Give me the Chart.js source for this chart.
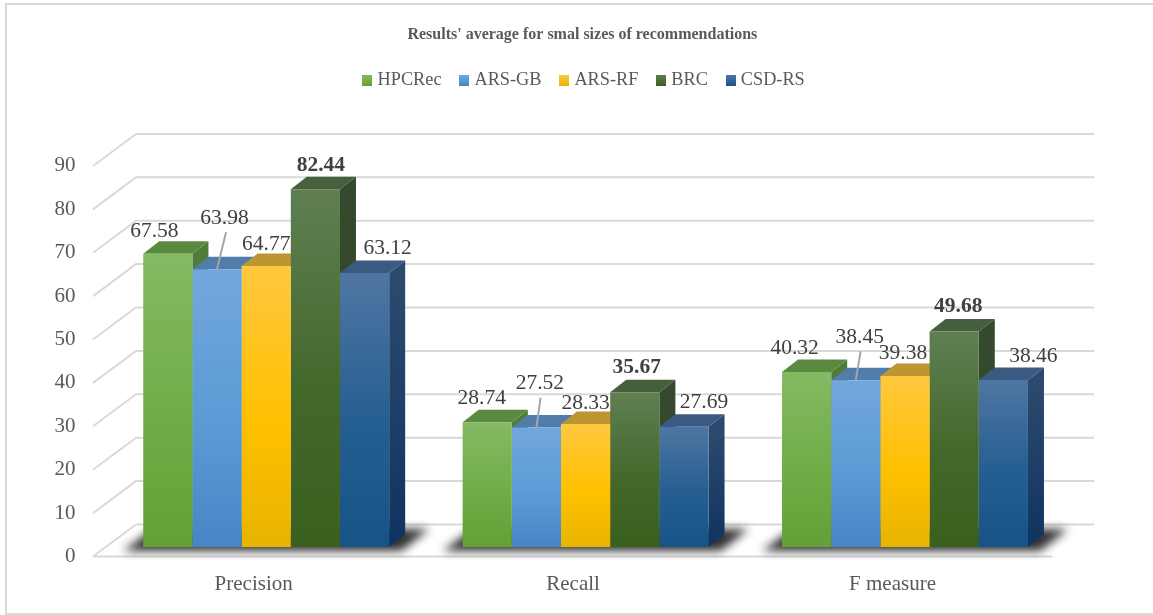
<!DOCTYPE html>
<html>
<head>
<meta charset="utf-8">
<title>Results' average</title>
<script src="https://cdn.jsdelivr.net/npm/chart.js@4/dist/chart.umd.min.js"></script>
<style>
    html, body { margin: 0; padding: 0; background: #fff; }
    #wrap { position: relative; width: 1153px; height: 615px; }
</style>
</head>
<body>
<div id="wrap"><canvas id="chart"></canvas></div>
<script>
const categories = ["Precision", "Recall", "F measure"];
const hpcrec = [67.58, 28.74, 40.32];
const arsGb = [63.98, 27.52, 38.45];
const arsRf = [64.77, 28.33, 39.38];
const brc = [82.44, 35.67, 49.68];
const csdRs = [63.12, 27.69, 38.46];
const yTicks = [0, 10, 20, 30, 40, 50, 60, 70, 80, 90];

// label nudges from the top centre of each bar, by series then category
const labelNudge = [
    [[-13.5, -22], [-5.5, -23.5], [-12, -23.5]],
    [[7.5, -51], [3.5, -44], [4, -43]],
    [[0, -21.5], [0, -21], [-2, -22.5]],
    [[5.5, -24], [2, -24.5], [4, -24.7]],
    [[23, -24.5], [20, -24], [30, -23.7]]
];

const SERIF = "'Liberation Serif', 'Times New Roman', serif";
const FLOOR_LIFT = 9.5;   // bars stand this far above the front edge of the floor
const DEPTH_X = 16, DEPTH_Y = 12.5;   // bar depth
const WALL_X = 43, WALL_Y = 32;       // wall depth

// colors: front top, front middle, front bottom, top face, side top, side bottom
const palette = [
    ["#84ba63", "#70ad47", "#63a036", "#5a8a3f", "#507c39", "#47722c"],
    ["#72a7dd", "#5b9bd5", "#4686c6", "#527dab", "#4a7199", "#3a6ea5"],
    ["#ffc83f", "#ffc000", "#e8b400", "#bd9632", "#a88428", "#a08000"],
    ["#5f7f53", "#43682b", "#3a601f", "#465f3c", "#37492f", "#2a4a18"],
    ["#4f76a3", "#255e91", "#175389", "#3a5a82", "#2d4a6e", "#0f3460"]
];

function makeSwatch(colors) {
    const c = document.createElement("canvas");
    c.width = 10;
    c.height = 11;
    const g = c.getContext("2d");
    const grad = g.createLinearGradient(0, 0, 0, 11);
    grad.addColorStop(0, colors[0]);
    grad.addColorStop(1, colors[1]);
    g.fillStyle = grad;
    g.fillRect(0, 0, 10, 11);
    return c;
}

function barFill(ctx) {
    const colors = palette[ctx.datasetIndex];
    const chart = ctx.chart;
    if (!chart.chartArea || ctx.raw === undefined) {
        return colors[1];
    }
    const y = chart.scales.y;
    const top = y.getPixelForValue(ctx.raw);
    const bottom = y.getPixelForValue(0);
    const grad = chart.ctx.createLinearGradient(0, top, 0, bottom);
    grad.addColorStop(0, colors[0]);
    grad.addColorStop(0.55, colors[1]);
    grad.addColorStop(1, colors[2]);
    return grad;
}

function poly(ctx, pts, fill) {
    ctx.beginPath();
    ctx.moveTo(pts[0][0], pts[0][1]);
    for (let i = 1; i < pts.length; i++) {
        ctx.lineTo(pts[i][0], pts[i][1]);
    }
    ctx.closePath();
    ctx.fillStyle = fill;
    ctx.fill();
}

const walls = {
    id: "walls",
    beforeDatasetsDraw(chart) {
        const ctx = chart.ctx;
        const area = chart.chartArea;
        const y = chart.scales.y;
        const x0 = area.left - 13.5;
        const x1 = x0 + WALL_X;
        const x2 = area.right + 29.5;
        ctx.save();
        ctx.strokeStyle = "#d9d9d9";
        ctx.lineWidth = 2;
        y.ticks.forEach(function (tick) {
            const py = y.getPixelForValue(tick.value);
            ctx.beginPath();
            ctx.moveTo(x0, py);
            ctx.lineTo(x1, py - WALL_Y);
            ctx.lineTo(x2, py - WALL_Y);
            ctx.stroke();
        });
        const py0 = y.getPixelForValue(0);
        ctx.beginPath();
        ctx.moveTo(x0, py0);
        ctx.lineTo(area.right - 12.5, py0);
        ctx.stroke();
        ctx.restore();

        // shadows on the floor
        const first = chart.getDatasetMeta(0);
        const last = chart.getDatasetMeta(chart.data.datasets.length - 1);
        ctx.save();
        ctx.filter = "blur(5px)";
        first.data.forEach(function (bar, i) {
            const left = bar.x - bar.width / 2;
            const right = last.data[i].x + last.data[i].width / 2;
            const base = bar.base - FLOOR_LIFT;
            poly(ctx, [[left - 20, base + 4], [right + 12, base + 4], [right + 40, base - 18], [left + 10, base - 18]], "#303030");
        });
        ctx.restore();

        // side and top faces, left to right, fronts come after
        ctx.save();
        ctx.translate(0, -FLOOR_LIFT);
        first.data.forEach(function (bar0, i) {
            chart.data.datasets.forEach(function (ds, d) {
                const bar = chart.getDatasetMeta(d).data[i];
                const l = bar.x - bar.width / 2;
                const r = bar.x + bar.width / 2;
                const side = ctx.createLinearGradient(0, bar.y, 0, bar.base);
                side.addColorStop(0, palette[d][4]);
                side.addColorStop(1, palette[d][5]);
                poly(ctx, [[r, bar.y], [r + DEPTH_X, bar.y - DEPTH_Y], [r + DEPTH_X, bar.base - DEPTH_Y], [r, bar.base]], side);
                poly(ctx, [[l, bar.y], [l + DEPTH_X, bar.y - DEPTH_Y], [r + DEPTH_X, bar.y - DEPTH_Y], [r, bar.y]], palette[d][3]);
            });
        });
    },
    afterDatasetsDraw(chart) {
        const ctx = chart.ctx;
        ctx.restore();

        // leader lines, then the value labels
        const gb = chart.getDatasetMeta(1);
        ctx.save();
        ctx.strokeStyle = "#a6a6a6";
        ctx.lineWidth = 2;
        gb.data.forEach(function (bar, i) {
            const nudge = labelNudge[1][i];
            ctx.beginPath();
            ctx.moveTo(bar.x, bar.y - FLOOR_LIFT);
            ctx.lineTo(bar.x + nudge[0] * 1.2, bar.y - FLOOR_LIFT + nudge[1] + 14);
            ctx.stroke();
        });
        ctx.textAlign = "center";
        ctx.textBaseline = "middle";
        chart.data.datasets.forEach(function (ds, d) {
            chart.getDatasetMeta(d).data.forEach(function (bar, i) {
                const nudge = labelNudge[d][i];
                const bold = d === 3;
                ctx.font = (bold ? "bold " : "") + "21.5px " + SERIF;
                ctx.fillStyle = "#404040";
                ctx.fillText(ds.data[i].toFixed(2), bar.x + nudge[0], bar.y - FLOOR_LIFT + nudge[1]);
            });
        });
        ctx.restore();

        // outer frame, open on the right
        ctx.save();
        ctx.strokeStyle = "#d9d9d9";
        ctx.lineWidth = 2;
        ctx.beginPath();
        ctx.moveTo(1153, 4);
        ctx.lineTo(6, 4);
        ctx.lineTo(6, 614);
        ctx.lineTo(1153, 614);
        ctx.stroke();
        ctx.restore();
    }
};

function series(label, values, i) {
    return {
        label: label,
        data: values,
        backgroundColor: barFill,
        borderWidth: 0,
        pointStyle: makeSwatch([palette[i][0], palette[i][2]]),
        barPercentage: 1,
        categoryPercentage: 0.77
    };
}

new Chart(document.getElementById("chart"), {
    type: "bar",
    plugins: [walls],
    data: {
        labels: categories,
        datasets: [
            series("HPCRec", hpcrec, 0),
            series("ARS-GB", arsGb, 1),
            series("ARS-RF", arsRf, 2),
            series("BRC", brc, 3),
            series("CSD-RS", csdRs, 4)
        ]
    },
    options: {
        responsive: true,
        maintainAspectRatio: false,
        animation: false,
        layout: { padding: { left: 11.7, right: 0, top: 25, bottom: 0 } },
        plugins: {
            tooltip: { enabled: false },
            title: {
                display: true,
                text: "Results' average for smal sizes of recommendations",
                color: "#595959",
                font: { family: SERIF, size: 16, weight: "bold" },
                padding: { top: 0, bottom: 5.5 }
            },
            legend: {
                display: true,
                position: "top",
                fullSize: false,
                labels: {
                    usePointStyle: true,
                    pointStyleWidth: 2,
                    color: "#595959",
                    font: { family: SERIF, size: 18.3 },
                    padding: 21.75
                }
            }
        },
        scales: {
            x: {
                grid: { display: false },
                border: { display: false },
                afterFit(scale) { scale.height = 58.5; },
                ticks: {
                    color: "#595959",
                    font: { family: SERIF, size: 21 },
                    padding: 7,
                    labelOffset: -12.5
                }
            },
            y: {
                min: 0,
                max: 105.25,
                afterFit(scale) { scale.width = 94.8; },
                afterBuildTicks(scale) { scale.ticks = yTicks.map(function (v) { return { value: v }; }); },
                grid: { display: false },
                border: { display: false },
                ticks: {
                    color: "#595959",
                    font: { family: SERIF, size: 21 },
                    padding: 23
                }
            },
            // empty axis, keeps the room the back wall needs on the right
            spacer: {
                position: "right",
                afterFit(scale) { scale.width = 88.3; },
                grid: { display: false },
                border: { display: false },
                ticks: { display: false }
            }
        }
    }
});
</script>
</body>
</html>
